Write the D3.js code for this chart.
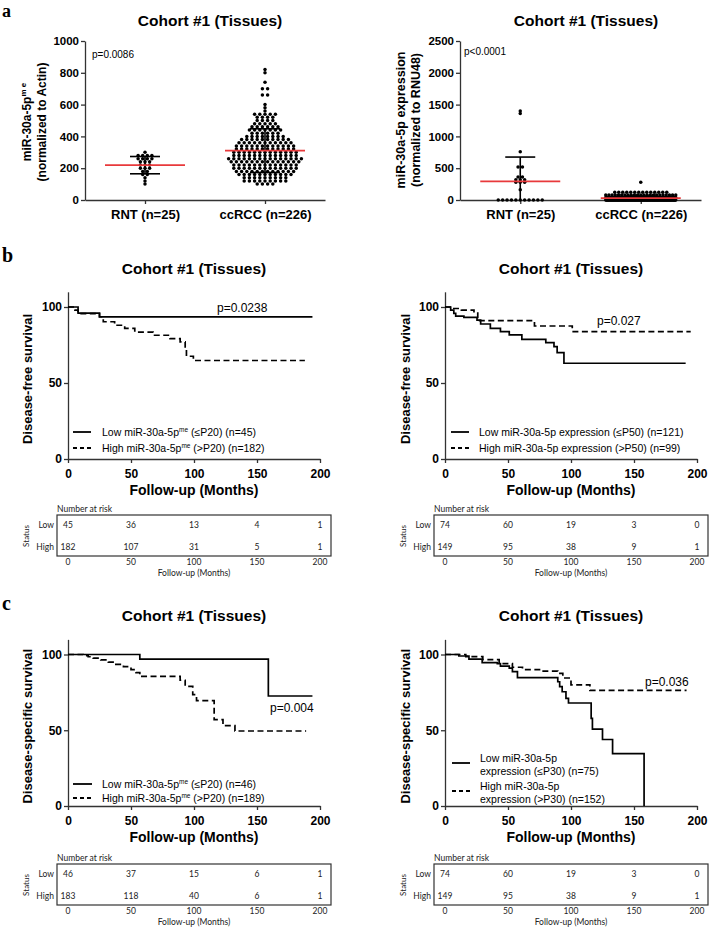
<!DOCTYPE html>
<html><head><meta charset="utf-8">
<script src="https://cdn.jsdelivr.net/npm/d3@7"></script>
<style>body{margin:0;background:#fff}svg{display:block}</style>
</head><body>
<svg id="chart" width="709" height="927"></svg>
<script>
// ---------------- DATA ----------------
const dotCategories = ["RNT (n=25)", "ccRCC (n=226)"];
const actinTicks = [0, 200, 400, 600, 800, 1000];
const rnu48Ticks = [0, 500, 1000, 1500, 2000, 2500];
const actinRNT = [300,280,280,280,280,260,260,260,260,240,240,240,220,220,220,200,200,200,180,180,160,160,140,120,100];
const actinCCRCC = [
 815,795,745,700,700,655,650,600,575,565,
 540,540,540,540,540, 520,520,520,520, 500,500,500,500, 480,480,480,480,480,
 460,460,460,460,460,460, 440,440,440,440,440,440,440, 420,420,420,420,420,420,
 400,400,400,400,400,400,400,400, 380,380,380,380,380,380,380,380,380,380,
 360,360,360,360,360,360,360,360,360,360,360, 340,340,340,340,340,340,340,340,340,340,340,340,
 320,320,320,320,320,320,320,320,320,320,320,320, 300,300,300,300,300,300,300,300,300,300,300,300,300,
 280,280,280,280,280,280,280,280,280,280,280,280,280, 260,260,260,260,260,260,260,260,260,260,260,260,260,260,260,
 240,240,240,240,240,240,240,240,240,240,240,240,240,240, 220,220,220,220,220,220,220,220,220,220,220,220,220,
 200,200,200,200,200,200,200,200,200,200,200,200,200, 180,180,180,180,180,180,180,180,180,180,180,180,
 160,160,160,160,160,160,160,160,160,160,160, 140,140,140,140,140,140,140,140,140,
 120,120,120,120,120,120,120,120,120, 100,100,100,100];
const rnu48RNT = [1390,1340,760,510,505,370,360,335,325,310,295,280,260,150,18,16,14,12,10,8,6,5,4,2,0];
const rnu48CCRCC = [
 290,130,130,120,120,120,110,110,110,110,100,100,100,100,100,90,90,90,90,80,80,80,80,80,
 70,70,70,70,70,70,60,60,60,60,60,60,60,60,50,50,50,50,50,50,50,50,50,50,
 40,40,40,40,40,40,40,40,40,40,40,40,40,40,
 30,30,30,30,30,30,30,30,30,30,30,30,30,30,30,30,30,30,30,30,
 20,20,20,20,20,20,20,20,20,20,20,20,20,20,20,20,20,20,20,20,20,20,20,20,20,20,20,20,20,20,20,20,
 10,10,10,10,10,10,10,10,10,10,10,10,10,10,10,10,10,10,10,10,10,10,10,10,10,
 10,10,10,10,10,10,10,10,10,10,10,10,10,10,10,10,10,10,10,10,10,10,10,10,10,
 5,5,5,5,5,5,5,5,5,5,5,5,5,5,5,5,5,5,5,5,5,5,5,5,5,5,5,5,5,5,
 0,0,0,0,0,0,0,0,0,0,0,0,0,0,0,0,0,0,0,0,0,0,0,0,0,0,0,0,0,0,0,0];

const kmTicksX = [0, 50, 100, 150, 200];
const kmTicksY = [0, 50, 100];
// DFS, miR-30a-5p^me P20
const dfsMeLowT  = [0, 8, 25, 194];
const dfsMeLowS  = [100, 96, 93.5, 93.5];
const dfsMeHighT = [0, 5.5, 8, 25, 28, 37, 45, 53, 67.5, 81, 89, 93, 94, 99.5, 188];
const dfsMeHighS = [100, 98, 95.6, 93.6, 90.3, 88, 86, 83.5, 81.4, 79.2, 77, 72.6, 67.6, 64.8, 64.8];
// DFS, miR-30a-5p expression P50
const dfsExLowT  = [0, 4.5, 7, 8.5, 15, 25.4, 28.3, 36, 44, 51, 61, 80, 86.5, 89, 94.4, 191];
const dfsExLowS  = [100, 98, 95.8, 94, 93.2, 91.4, 88.8, 86, 83.8, 81.6, 78.7, 76.5, 73.9, 70, 63, 63];
const dfsExHighT = [0, 7, 13, 23, 26, 71, 101, 195];
const dfsExHighS = [100, 99, 98, 96, 91, 87.5, 83.8, 83.8];
// DSS, miR-30a-5p^me P20
const dssMeLowT  = [0, 57, 159, 194];
const dssMeLowS  = [100, 97, 72.6, 72.6];
const dssMeHighT = [0, 12, 16, 20, 26, 32, 38, 44, 50, 54, 57, 89, 93, 99, 102, 116, 123, 132.5, 189];
const dssMeHighS = [100, 99.3, 98.5, 97.6, 96.5, 95, 93.5, 92, 90, 88, 85.5, 83, 79, 73.5, 69.5, 57, 53, 49.5, 49.5];
// DSS, miR-30a-5p expression P30
const dssExLowT  = [0, 11, 19, 29.5, 41.5, 44, 51, 53.5, 57.5, 89.5, 91, 93, 96, 98, 116, 117, 125, 133, 158];
const dssExLowS  = [100, 99, 97, 94.7, 94, 92.3, 91, 88.7, 84.7, 82, 78.8, 75.4, 71, 68, 57.8, 50.7, 43.9, 34.6, 0];
const dssExHighT = [0, 16.5, 30, 43, 53.5, 61.5, 75, 89.5, 93.5, 100, 115, 191.7];
const dssExHighS = [100, 98.6, 96.6, 94, 91.6, 90, 89, 87.5, 84.5, 80, 76.3, 76.3];

const riskTimes = [0, 50, 100, 150, 200];
const riskDfsMeLow = [45, 36, 13, 4, 1];
const riskDfsMeHigh = [182, 107, 31, 5, 1];
const riskDfsExLow = [74, 60, 19, 3, 0];
const riskDfsExHigh = [149, 95, 38, 9, 1];
const riskDssMeLow = [46, 37, 15, 6, 1];
const riskDssMeHigh = [183, 118, 40, 6, 1];
const riskDssExLow = [74, 60, 19, 3, 0];
const riskDssExHigh = [149, 95, 38, 9, 1];

// ---------------- DRAW ----------------
const svg = d3.select("#chart");
const SANS = "'Liberation Sans', Arial, Helvetica, sans-serif";
const SERIF = "'Liberation Serif', 'Times New Roman', serif";
const TABLEF = "Lato, 'Open Sans', sans-serif";
const AXC = "#333";
const fmt = d3.format("d");

function txt(x, y, s, o = {}) {
  const t = svg.append("text").attr("x", x).attr("y", y).text(s)
    .attr("font-family", o.family || SANS).attr("font-size", o.size || 10)
    .attr("font-weight", o.weight || "normal").attr("fill", o.fill || "#000")
    .attr("text-anchor", o.anchor || "start");
  if (o.rotate) t.attr("transform", `rotate(-90,${x},${y})`);
  return t;
}
function styleAxis(g, size) {
  g.attr("font-family", SANS).attr("font-size", size).attr("font-weight", "bold");
  g.selectAll("path.domain").attr("stroke", AXC).attr("stroke-width", 1.3);
  g.selectAll(".tick line").attr("stroke", AXC).attr("stroke-width", 1.3);
  g.selectAll(".tick text").attr("fill", "#000");
}

// panel letters
txt(2, 16.5, "a", {family: SERIF, size: 18, weight: "bold"});
txt(2, 262, "b", {family: SERIF, size: 20, weight: "bold"});
txt(2, 610, "c", {family: SERIF, size: 20, weight: "bold"});

function swarm(vals, cx, y, rowV, dx, maxW) {
  const rows = d3.groups(vals, v => Math.round(v / rowV));
  const out = [];
  rows.forEach(([k, arr]) => {
    const n = arr.length;
    const step = n > 1 ? Math.min(dx, maxW / (n - 1)) : 0;
    arr.forEach((v, i) => out.push({x: cx + (i - (n - 1) / 2) * step, y: y(k * rowV)}));
  });
  return out;
}

function dotPanel(c) {
  const x = d3.scalePoint().domain(dotCategories).range([c.x0, c.x1]).padding(0.5);
  const y = d3.scaleLinear().domain([0, c.max]).range([200, 41]);
  const ya = svg.append("g").attr("transform", `translate(${c.x0},0)`)
    .call(d3.axisLeft(y).tickValues(c.ticks).tickFormat(fmt).tickSize(4).tickPadding(2).tickSizeOuter(0));
  styleAxis(ya, 11.5);
  const xa = svg.append("g").attr("transform", "translate(0,200)")
    .call(d3.axisBottom(x).tickSize(4).tickPadding(6).tickSizeOuter(0));
  styleAxis(xa, 13);
  c.groups.forEach((vals, i) => {
    const cx = x(dotCategories[i]);
    const pts = swarm(vals, cx, y, c.rowV[i], c.dx[i], c.maxW);
    svg.append("g").selectAll("circle").data(pts).enter().append("circle")
      .attr("cx", d => d.x).attr("cy", d => d.y).attr("r", 1.75).attr("fill", "#000");
    const m = d3.mean(vals), sd = d3.deviation(vals);
    const g = svg.append("g").attr("stroke", "#000").attr("stroke-width", 1.6);
    const yT = y(m + sd), yB = y(Math.max(0, m - sd));
    g.append("line").attr("x1", cx).attr("x2", cx).attr("y1", yT).attr("y2", yB);
    g.append("line").attr("x1", cx - 15).attr("x2", cx + 15).attr("y1", yT).attr("y2", yT);
    if (m - sd > 0) g.append("line").attr("x1", cx - 15).attr("x2", cx + 15).attr("y1", yB).attr("y2", yB);
    svg.append("line").attr("x1", cx - 40).attr("x2", cx + 40).attr("y1", y(m)).attr("y2", y(m))
      .attr("stroke", "#e8393b").attr("stroke-width", 1.8);
  });
  txt(c.titleX, 26, "Cohort #1 (Tissues)", {size: 15.5, weight: "bold", anchor: "middle"});
  txt(c.pX, c.pY, c.p, {size: 10});
}

dotPanel({x0: 85, x1: 325, max: 1000, ticks: actinTicks, groups: [actinRNT, actinCCRCC],
  rowV: [20, 20], dx: [4.6, 5.2], maxW: 80, titleX: 210, pX: 92, pY: 58, p: "p=0.0086"});
dotPanel({x0: 460, x1: 701, max: 2500, ticks: rnu48Ticks, groups: [rnu48RNT, rnu48CCRCC],
  rowV: [40, 40], dx: [4.4, 4.0], maxW: 70, titleX: 586, pX: 464, pY: 55, p: "p<0.0001"});

// dot plot y labels
{
  const t1 = txt(31, 122, "miR-30a-5p", {size: 12, weight: "bold", anchor: "middle", rotate: true});
  t1.append("tspan").attr("font-size", 8).attr("dy", -5).text("m e");
  txt(45.5, 122, "(normalized to Actin)", {size: 12, weight: "bold", anchor: "middle", rotate: true});
  txt(405, 120, "miR-30a-5p expression", {size: 12.5, weight: "bold", anchor: "middle", rotate: true});
  txt(419.5, 120, "(normalized to RNU48)", {size: 12.5, weight: "bold", anchor: "middle", rotate: true});
}

function kmPanel(c) {
  const x = d3.scaleLinear().domain([0, 200]).range([c.x0, c.x0 + 252]);
  const y = d3.scaleLinear().domain([0, 110]).range([c.y0, c.y0 - c.k * 110]);
  const ya = svg.append("g").attr("transform", `translate(${c.x0},0)`)
    .call(d3.axisLeft(y).tickValues(kmTicksY).tickFormat(fmt).tickSize(4).tickPadding(2).tickSizeOuter(0));
  styleAxis(ya, 12);
  const xa = svg.append("g").attr("transform", `translate(0,${c.y0})`)
    .call(d3.axisBottom(x).tickValues(kmTicksX).tickFormat(fmt).tickSize(4).tickPadding(6).tickSizeOuter(0));
  styleAxis(xa, 12);
  const line = d3.line().curve(d3.curveStepAfter).x(d => x(d[0])).y(d => y(d[1]));
  svg.append("path").attr("d", line(d3.zip(c.lowT, c.lowS))).attr("fill", "none")
    .attr("stroke", "#000").attr("stroke-width", 1.7);
  svg.append("path").attr("d", line(d3.zip(c.highT, c.highS))).attr("fill", "none")
    .attr("stroke", "#000").attr("stroke-width", 1.7).attr("stroke-dasharray", "6,3.5");
  const xm = x(100);
  txt(xm, c.tY, "Cohort #1 (Tissues)", {size: 15.5, weight: "bold", anchor: "middle"});
  txt(xm, c.y0 + 36, "Follow-up (Months)", {size: 14, weight: "bold", anchor: "middle"});
  txt(c.ylX, (y(0) + y(100)) / 2 - 4, c.ylabel, {size: 13, weight: "bold", anchor: "middle", rotate: true});
  txt(c.pX, c.pY, c.p, {size: 12});
  return {x, y};
}

function legendLine(x1, x2, yy, dashed) {
  const l = svg.append("line").attr("x1", x1).attr("x2", x2).attr("y1", yy).attr("y2", yy)
    .attr("stroke", "#000").attr("stroke-width", 1.8);
  if (dashed) l.attr("stroke-dasharray", "4,3");
}
function meLabel(x, y, pre, post) {
  const t = txt(x, y, pre, {size: 10.5});
  t.append("tspan").attr("font-size", 6.5).attr("dy", -4).text("me");
  t.append("tspan").attr("dy", 4).text(post);
}

function riskTable(xs, top, low, high) {
  const left = xs(0) - 11, right = xs(200) + 11, bottom = top + 41;
  txt(left, top - 3, "Number at risk", {family: TABLEF, size: 8.5, fill: "#222"});
  svg.append("rect").attr("x", left).attr("y", top).attr("width", right - left).attr("height", bottom - top)
    .attr("fill", "none").attr("stroke", "#333").attr("stroke-width", 1.2);
  txt(left - 3, top + 13, "Low", {family: TABLEF, size: 8.5, anchor: "end", fill: "#222"});
  txt(left - 3, top + 35, "High", {family: TABLEF, size: 8.5, anchor: "end", fill: "#222"});
  txt(left - 28, top + 21, "Status", {family: TABLEF, size: 8, anchor: "middle", rotate: true, fill: "#222"});
  riskTimes.forEach((t, i) => {
    txt(xs(t), top + 13, low[i], {family: TABLEF, size: 8.5, anchor: "middle", fill: "#222"});
    txt(xs(t), top + 35, high[i], {family: TABLEF, size: 8.5, anchor: "middle", fill: "#222"});
    txt(xs(t), top + 50, t, {family: TABLEF, size: 8.5, anchor: "middle", fill: "#222"});
  });
  txt(xs(100), top + 61, "Follow-up (Months)", {family: TABLEF, size: 8.5, anchor: "middle", fill: "#222"});
}

// b left
const bL = kmPanel({x0: 68, y0: 459, k: 1.52, lowT: dfsMeLowT, lowS: dfsMeLowS, highT: dfsMeHighT, highS: dfsMeHighS,
  tY: 274, ylX: 32, ylabel: "Disease-free survival", pX: 217, pY: 312, p: "p=0.0238"});
legendLine(73, 91, 432, false); legendLine(73, 91, 448, true);
meLabel(102, 435.5, "Low miR-30a-5p", " (\u2264P20) (n=45)");
meLabel(102, 451.5, "High miR-30a-5p", " (>P20) (n=182)");
riskTable(bL.x, 515, riskDfsMeLow, riskDfsMeHigh);

// b right
const bR = kmPanel({x0: 445, y0: 459, k: 1.52, lowT: dfsExLowT, lowS: dfsExLowS, highT: dfsExHighT, highS: dfsExHighS,
  tY: 274, ylX: 410, ylabel: "Disease-free survival", pX: 597, pY: 325, p: "p=0.027"});
legendLine(451, 469, 432, false); legendLine(451, 469, 448, true);
txt(479, 435.5, "Low miR-30a-5p expression (\u2264P50) (n=121)", {size: 10.5});
txt(479, 451.5, "High miR-30a-5p expression (>P50) (n=99)", {size: 10.5});
riskTable(bR.x, 515, riskDfsExLow, riskDfsExHigh);

// c left
const cL = kmPanel({x0: 68, y0: 806, k: 1.515, lowT: dssMeLowT, lowS: dssMeLowS, highT: dssMeHighT, highS: dssMeHighS,
  tY: 621, ylX: 32, ylabel: "Disease-specific survival", pX: 270, pY: 712, p: "p=0.004"});
legendLine(73, 92, 784, false); legendLine(73, 92, 798, true);
meLabel(102, 787.5, "Low miR-30a-5p", " (\u2264P20) (n=46)");
meLabel(102, 801.5, "High miR-30a-5p", " (>P20) (n=189)");
riskTable(cL.x, 864, riskDssMeLow, riskDssMeHigh);

// c right
const cR = kmPanel({x0: 445, y0: 806, k: 1.515, lowT: dssExLowT, lowS: dssExLowS, highT: dssExHighT, highS: dssExHighS,
  tY: 621, ylX: 410, ylabel: "Disease-specific survival", pX: 645, pY: 686, p: "p=0.036"});
legendLine(452, 470, 763, false); legendLine(452, 470, 791, true);
txt(480, 761.5, "Low miR-30a-5p", {size: 10.5});
txt(480, 775, "expression (\u2264P30) (n=75)", {size: 10.5});
txt(480, 789.5, "High miR-30a-5p", {size: 10.5});
txt(480, 803, "expression (>P30) (n=152)", {size: 10.5});
riskTable(cR.x, 864, riskDssExLow, riskDssExHigh);
</script>
</body></html>
